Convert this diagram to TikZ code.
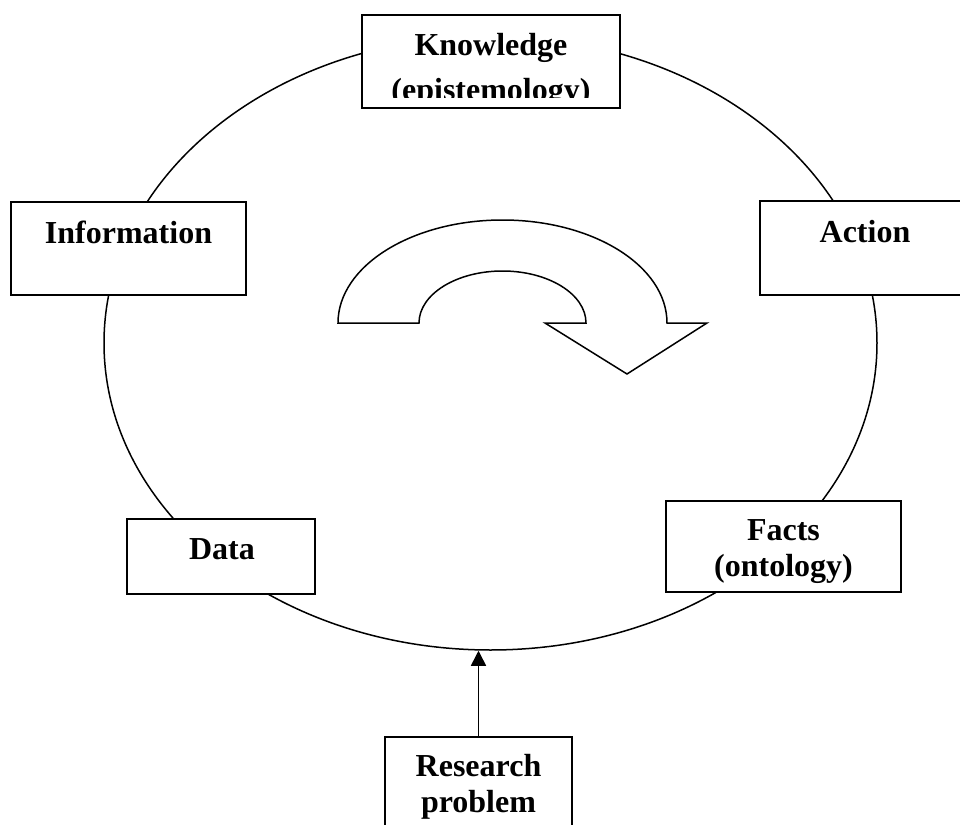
\documentclass[tikz,border=0pt]{standalone}
\usepackage{fontspec}
\setmainfont{Liberation Serif}
\usetikzlibrary{shapes.geometric,arrows.meta}
\tikzset{every picture/.style={line width=0.75pt}}
\tikzset{
	box/.style={draw,fill=white,line width=1pt,inner sep=0pt},
	lbl/.style={font=\fontsize{16}{18}\selectfont\bfseries,align=center,inner sep=0pt}
}
\begin{document}
\begin{tikzpicture}[x=0.5pt,y=-0.5pt]
	\clip (0,0) rectangle (960,825);
	%Vong
	\node[draw,ellipse,minimum width=386.5pt,minimum height=307pt,inner sep=0pt] (cycle) at (490.5,343) {};
	%Mui ten cong
	\draw[fill=white] (338,323) arc[start angle=180,end angle=360,x radius=164.5,y radius=103]
		-- (707,323) -- (627,374) -- (545,323) -- (586,323)
		arc[start angle=0,end angle=-180,x radius=83.5,y radius=52] -- cycle;
	%Khung
	\node[box,minimum width=129pt,minimum height=46.5pt] (know) at (491,61.5) {};
	\node[box,minimum width=117.5pt,minimum height=46.5pt] (info) at (128.5,248.5) {};
	\node[box,minimum width=105pt,minimum height=47pt] (action) at (865,248) {};
	\node[box,minimum width=94pt,minimum height=37.5pt] (data) at (221,556.5) {};
	\node[box,minimum width=117.5pt,minimum height=45.5pt] (facts) at (783.5,546.5) {};
	\node[box,minimum width=93.5pt,minimum height=56.5pt] (research) at (478.5,793.5) {};
	%Chu
	\begin{scope}
		\clip (364,17) rectangle (618,97);
		\node[lbl] (know-txt) at (491,70.5) {Knowledge\\[4.5pt](epistemology)};
	\end{scope}
	\node[lbl] (info-txt) at (128.5,232) {Information};
	\node[lbl] (action-txt) at (865,232) {Action};
	\node[lbl] (data-txt) at (222,549.5) {Data};
	\node[lbl] (facts-txt) at (783.5,551.5) {Facts\\(ontology)};
	\node[lbl] (research-txt) at (478.5,786.5) {Research\\problem};
	%Mui ten
	\draw[-{Triangle[length=7.5pt,width=7.5pt]},line width=0.8pt] (research.north) -- (research.north |- cycle.south);
\end{tikzpicture}
\end{document}
